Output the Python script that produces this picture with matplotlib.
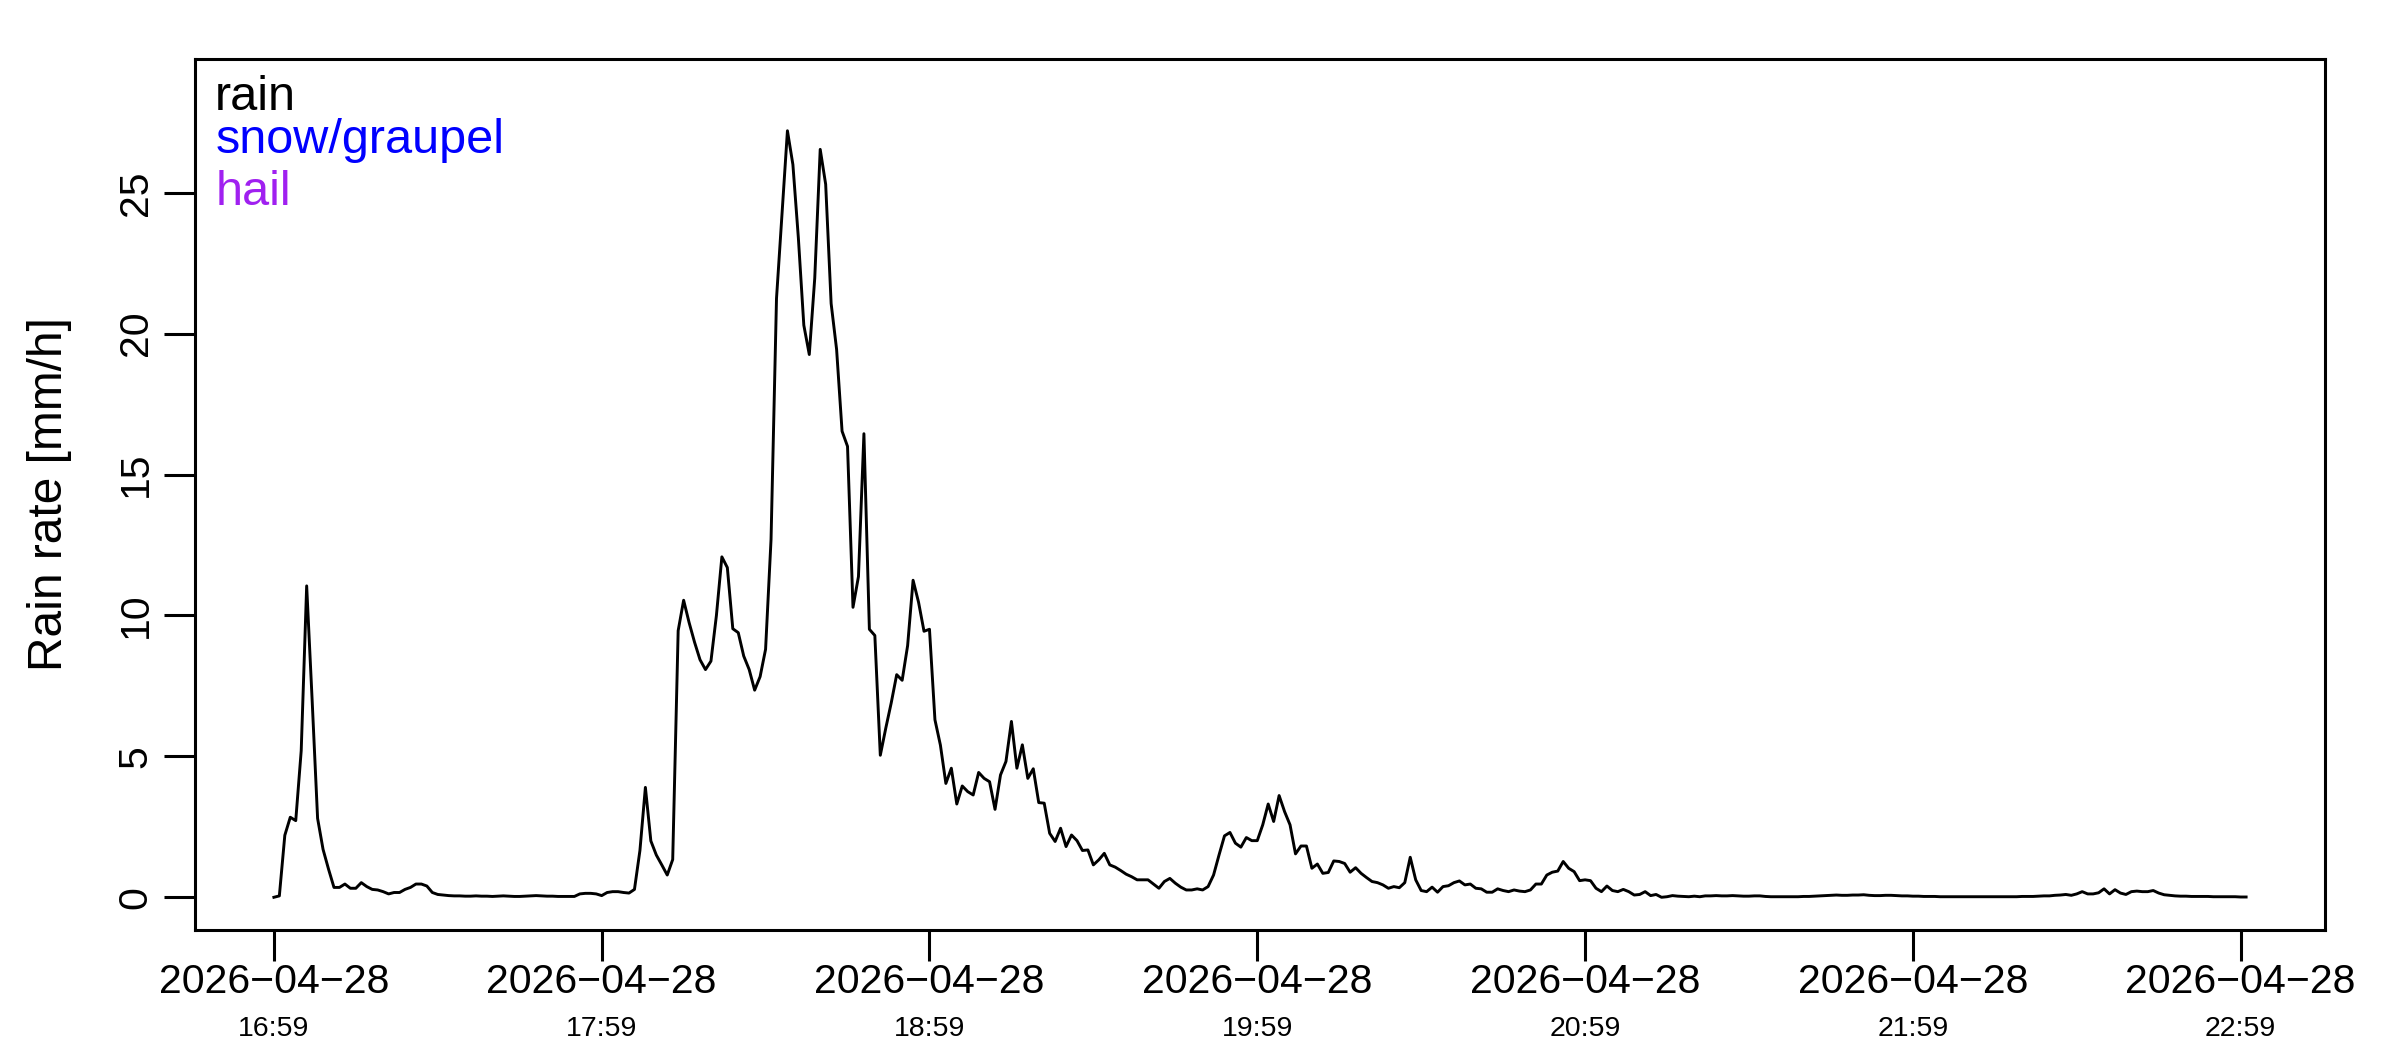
import numpy as np
import pandas as pd
import matplotlib
matplotlib.use("Agg")
import matplotlib.pyplot as plt
import matplotlib.dates as mdates
from matplotlib.transforms import blended_transform_factory

plt.rcParams['font.family'] = ['Liberation Sans', 'DejaVu Sans']

# rain rate [mm/h], one value per minute, split by hour (start 16:59)
rain_h1 = [0.0, 0.05, 2.2, 2.84, 2.72, 5.2, 11.05, 7.0, 2.8, 1.7,
           1.0, 0.35, 0.35, 0.47, 0.32, 0.32, 0.52, 0.38, 0.28, 0.26,
           0.2, 0.12, 0.17, 0.17, 0.28, 0.35, 0.47, 0.47, 0.4, 0.17,
           0.1, 0.08, 0.06, 0.05, 0.05, 0.04, 0.04, 0.05, 0.04, 0.04,
           0.03, 0.04, 0.05, 0.04, 0.03, 0.03, 0.04, 0.05, 0.06, 0.05,
           0.04, 0.04, 0.03, 0.03, 0.03, 0.03, 0.12, 0.14, 0.14, 0.12]
rain_h2 = [0.06, 0.17, 0.2, 0.2, 0.17, 0.15, 0.28, 1.66, 3.9, 2.0,
           1.5, 1.15, 0.79, 1.34, 9.46, 10.54, 9.75, 9.05, 8.43, 8.08,
           8.38, 10.0, 12.08, 11.7, 9.53, 9.39, 8.56, 8.08, 7.35, 7.83,
           8.8, 12.7, 21.25, 24.2, 27.2, 26.0, 23.4, 20.3, 19.26, 21.97,
           26.54, 25.3, 21.07, 19.44, 16.54, 16.0, 10.29, 11.38, 16.45, 9.51,
           9.29, 5.04, 6.0, 6.9, 7.9, 7.7, 8.93, 11.25, 10.47, 9.44]
rain_h3 = [9.51, 6.3, 5.4, 4.04, 4.58, 3.31, 3.95, 3.75, 3.63, 4.43,
           4.22, 4.1, 3.12, 4.34, 4.82, 6.24, 4.58, 5.41, 4.22, 4.56,
           3.36, 3.34, 2.27, 1.98, 2.45, 1.8, 2.21, 2.01, 1.66, 1.68,
           1.15, 1.33, 1.56, 1.15, 1.07, 0.95, 0.82, 0.73, 0.62, 0.62,
           0.62, 0.47, 0.32, 0.56, 0.67, 0.5, 0.36, 0.26, 0.26, 0.3,
           0.26, 0.38, 0.79, 1.5, 2.18, 2.3, 1.92, 1.78, 2.12, 2.01]
rain_h4 = [2.01, 2.57, 3.31, 2.69, 3.61, 3.04, 2.57, 1.54, 1.82, 1.82,
           1.03, 1.18, 0.85, 0.88, 1.29, 1.27, 1.2, 0.89, 1.05, 0.85,
           0.7, 0.56, 0.52, 0.44, 0.32, 0.38, 0.34, 0.52, 1.42, 0.62,
           0.24, 0.2, 0.36, 0.18, 0.38, 0.41, 0.52, 0.58, 0.44, 0.47,
           0.32, 0.3, 0.18, 0.18, 0.3, 0.24, 0.2, 0.26, 0.22, 0.2,
           0.26, 0.47, 0.47, 0.79, 0.89, 0.93, 1.27, 1.03, 0.91, 0.59]
rain_h5 = [0.62, 0.59, 0.32, 0.2, 0.4, 0.24, 0.2, 0.28, 0.2, 0.08,
           0.1, 0.2, 0.06, 0.1, 0.0, 0.02, 0.06, 0.04, 0.03, 0.02,
           0.04, 0.02, 0.05, 0.05, 0.06, 0.05, 0.05, 0.06, 0.05, 0.04,
           0.04, 0.05, 0.05, 0.03, 0.02, 0.02, 0.02, 0.02, 0.02, 0.02,
           0.03, 0.03, 0.04, 0.05, 0.06, 0.07, 0.08, 0.07, 0.07, 0.08,
           0.08, 0.09, 0.07, 0.06, 0.06, 0.07, 0.07, 0.06, 0.05, 0.05]
rain_h6 = [0.04, 0.04, 0.03, 0.03, 0.03, 0.02, 0.02, 0.02, 0.02, 0.02,
           0.02, 0.02, 0.02, 0.02, 0.02, 0.02, 0.02, 0.02, 0.02, 0.02,
           0.03, 0.03, 0.03, 0.04, 0.05, 0.05, 0.07, 0.08, 0.1, 0.07,
           0.12, 0.2, 0.12, 0.12, 0.16, 0.3, 0.12, 0.27, 0.15, 0.1,
           0.2, 0.22, 0.2, 0.2, 0.24, 0.15, 0.09, 0.07, 0.05, 0.04,
           0.04, 0.03, 0.03, 0.03, 0.03, 0.02, 0.02, 0.02, 0.02, 0.02,
           0.01, 0.01]

start_time = "2026-04-28 16:59"
tick_hours = ["16:59", "17:59", "18:59", "19:59", "20:59", "21:59", "22:59"]
legend_labels = ["rain", "snow/graupel", "hail"]
legend_colors = ["black", "#0000FF", "#A020F0"]
y_ticks = [0, 5, 10, 15, 20, 25]

rain = np.array(rain_h1 + rain_h2 + rain_h3 + rain_h4 + rain_h5 + rain_h6)
times = pd.date_range(start_time, periods=len(rain), freq="min")

fig = plt.figure(figsize=(24, 10.5), dpi=100)
ax = fig.add_axes([195 / 2400, 1 - 929.5 / 1050, 2130 / 2400, 870.6 / 1050])

ax.plot(times, rain, color="black", lw=2.1)

# R style 4% padding on x
x0 = mdates.date2num(times[0])
x1 = mdates.date2num(times[-1])
pad = 0.04 * (x1 - x0)
ax.set_xlim(x0 - pad, x1 + pad)
ax.set_ylim(-1.143, 29.75)

for s in ax.spines.values():
    s.set_linewidth(2.2)

tick_pos = [mdates.date2num(pd.Timestamp("2026-04-28 " + h)) for h in tick_hours]
ax.set_xticks(tick_pos)
ax.set_xticklabels([])
ax.tick_params(axis="x", length=22, width=2.2, direction="out")
trans = blended_transform_factory(ax.transData, ax.transAxes)
for pos, h in zip(tick_pos, tick_hours):
    ax.text(pos, -0.0733, "2026\u221204\u221228", transform=trans, ha="center",
            va="baseline", fontsize=29.5, clip_on=False)
    ax.text(pos, -0.1218, h, transform=trans, ha="center", va="baseline",
            fontsize=20.5, clip_on=False)

ax.set_yticks(y_ticks)
ax.set_yticklabels([str(v) for v in y_ticks], rotation=90, va="center",
                   fontsize=29.5)
ax.tick_params(axis="y", length=22, width=2.2, direction="out", pad=7)

fig.text(0.0205, 1 - 494 / 1050, "Rain rate [mm/h]", rotation=90,
         ha="center", va="center", fontsize=34.5)

leg_y = [1 - (110 - 58.9) / 870.6, 1 - (152.7 - 58.9) / 870.6,
         1 - (205 - 58.9) / 870.6]
for lab, col, yy in zip(legend_labels, legend_colors, leg_y):
    ax.text(0.0095, yy, lab, color=col, transform=ax.transAxes,
            ha="left", va="baseline", fontsize=35)

fig.savefig("out.png", dpi=100, facecolor="white")
